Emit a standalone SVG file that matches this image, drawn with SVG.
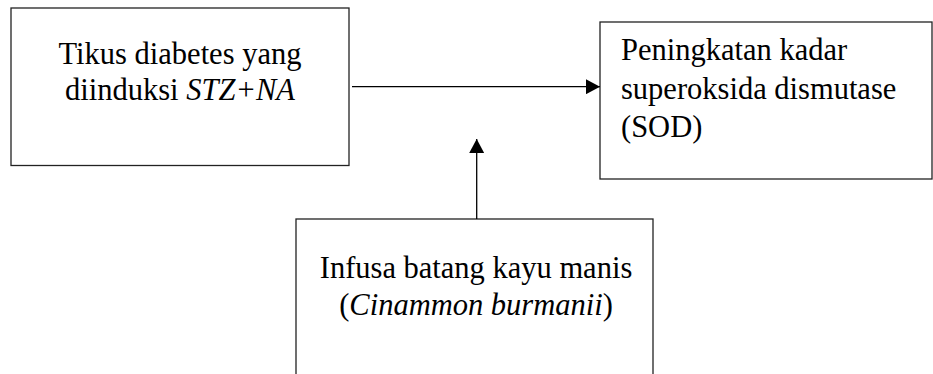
<svg xmlns="http://www.w3.org/2000/svg" width="933" height="374" viewBox="0 0 933 374">
<style>
.box{fill:#fff;stroke:#222;stroke-width:1.3}
.t{font-size:30.5px;fill:#000}
.c{text-anchor:middle}
.i{font-style:italic}
.ln{stroke:#000;stroke-width:1.3;fill:none}
</style>
<defs>
<marker id="ah" viewBox="0 0 14 15" refX="14" refY="7.5" markerWidth="14" markerHeight="15" markerUnits="userSpaceOnUse" orient="auto">
<path d="M0,0 L14,7.5 L0,15 Z" fill="#000"/>
</marker>
</defs>
<rect width="933" height="374" fill="#fff"/>
<g font-family="Liberation Serif, serif">
<g id="n1">
<rect class="box" x="11" y="8" width="338" height="157.5"/>
<text class="t c" x="180" y="63.5">Tikus diabetes yang</text>
<text class="t c" x="180" y="99.5">diinduksi <tspan class="i">STZ+NA</tspan></text>
</g>
<g id="n2">
<rect class="box" x="600" y="22" width="332" height="157"/>
<text class="t" x="621" y="59.5">Peningkatan kadar</text>
<text class="t" x="621" y="98.5">superoksida dismutase</text>
<text class="t" x="621" y="137">(SOD)</text>
</g>
<g id="n3">
<rect class="box" x="296" y="219" width="357" height="170"/>
<text class="t c" x="476" y="277.5">Infusa batang kayu manis</text>
<text class="t c" x="476" y="315">(<tspan class="i">Cinammon burmanii</tspan>)</text>
</g>
</g>
<g id="connectors">
<line class="ln" x1="352" y1="86.7" x2="600" y2="86.7" marker-end="url(#ah)"/>
<line class="ln" x1="476.7" y1="219" x2="476.7" y2="139" marker-end="url(#ah)"/>
</g>
</svg>
